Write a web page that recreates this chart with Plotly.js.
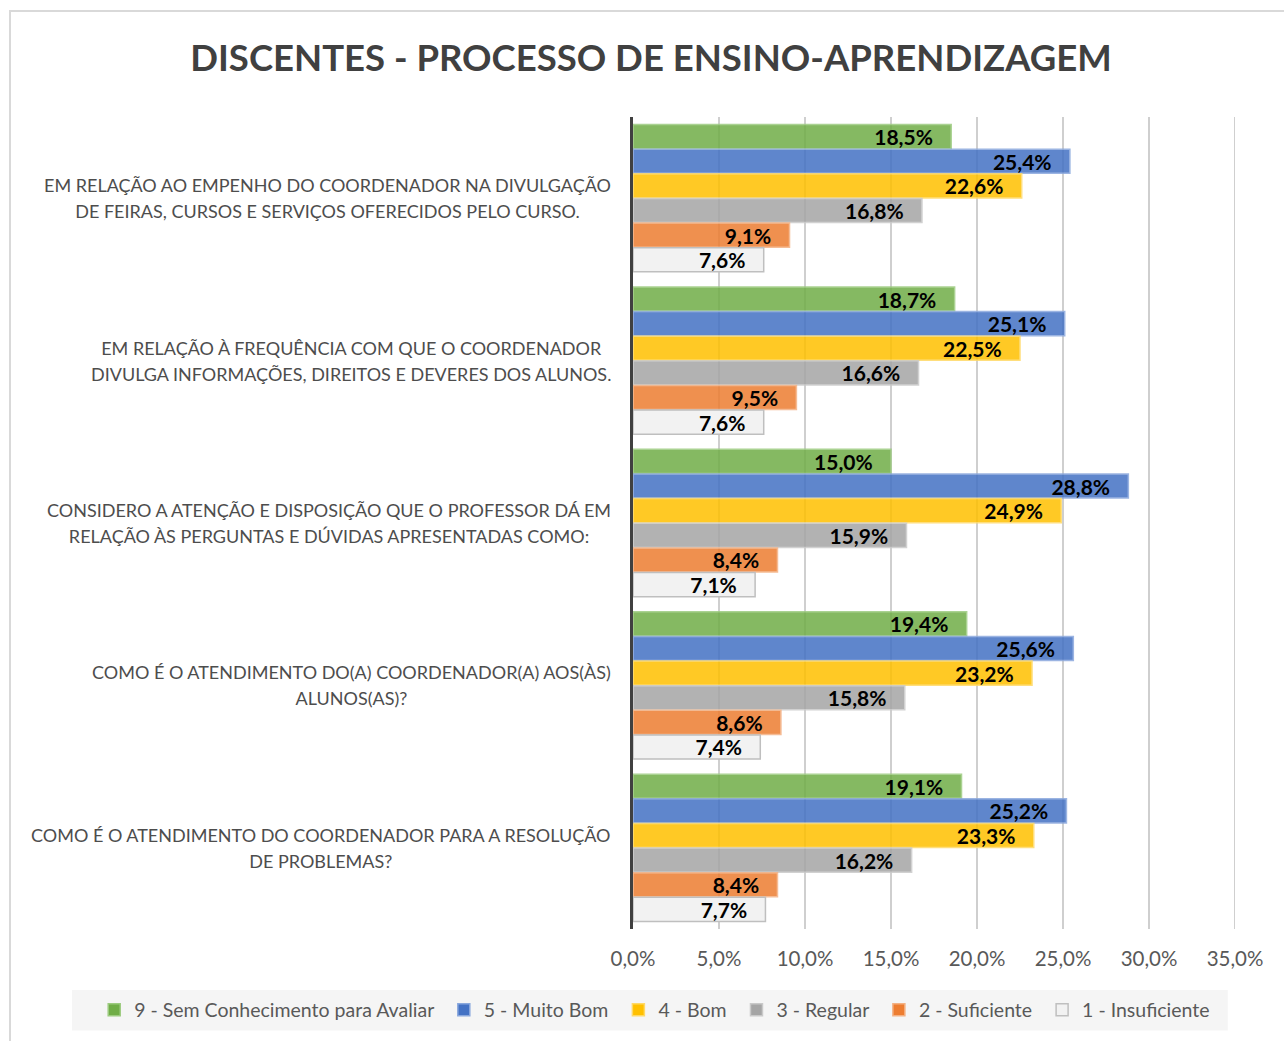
<!DOCTYPE html>
<html>
<head>
<meta charset="utf-8">
<script src="https://cdn.plot.ly/plotly-3.0.1.min.js"></script>
<style>
  body { margin: 0; background: #ffffff; overflow: hidden; }
  #frame { position: absolute; left: 9px; top: 10px; width: 1300px; height: 1040px; border: 2px solid #d9d9d9; box-sizing: border-box; }
  #chart { position: absolute; left: 0; top: 0; width: 1284px; height: 1041px; }
</style>
</head>
<body>
<div id="frame"></div>
<div id="chart"></div>
<script>
const categories = [
  "EM RELAÇÃO AO EMPENHO DO COORDENADOR NA DIVULGAÇÃO<br>DE FEIRAS, CURSOS E SERVIÇOS OFERECIDOS PELO CURSO.",
  "EM RELAÇÃO À FREQUÊNCIA COM QUE O COORDENADOR<br>DIVULGA INFORMAÇÕES, DIREITOS E DEVERES DOS ALUNOS.",
  "CONSIDERO A ATENÇÃO E DISPOSIÇÃO QUE O PROFESSOR DÁ EM<br>RELAÇÃO ÀS PERGUNTAS E DÚVIDAS APRESENTADAS COMO:",
  "COMO É O ATENDIMENTO DO(A) COORDENADOR(A) AOS(ÀS)<br>ALUNOS(AS)?",
  "COMO É O ATENDIMENTO DO COORDENADOR PARA A RESOLUÇÃO<br>DE PROBLEMAS?"
];
const seriesNames = ["9 - Sem Conhecimento para Avaliar", "5 - Muito Bom", "4 - Bom", "3 - Regular", "2 - Suficiente", "1 - Insuficiente"];
const semConhecimento = [18.5, 18.7, 15.0, 19.4, 19.1];
const muitoBom        = [25.4, 25.1, 28.8, 25.6, 25.2];
const bom             = [22.6, 22.5, 24.9, 23.2, 23.3];
const regular         = [16.8, 16.6, 15.9, 15.8, 16.2];
const suficiente      = [9.1, 9.5, 8.4, 8.6, 8.4];
const insuficiente    = [7.6, 7.6, 7.1, 7.4, 7.7];
const xTicks = [0, 5, 10, 15, 20, 25, 30, 35];

const seriesValues = [semConhecimento, muitoBom, bom, regular, suficiente, insuficiente];
const fills  = ["#70AD47", "#4472C4", "#FFC000", "#A5A5A5", "#ED7D31", "#F2F2F2"];
const lines  = ["#9ccb7f", "#8aa8dd", "#ffd966", "#c9c9c9", "#f4b183", "#bfbfbf"];
const opac   = [0.85, 0.85, 0.85, 0.85, 0.85, 1];
const FONT = "Lato, 'Open Sans', sans-serif";

const catIds = categories.map((c, i) => "c" + i);
const xMax = xTicks[xTicks.length - 1];

const traces = seriesValues.map((vals, i) => ({
  type: "bar",
  orientation: "h",
  name: seriesNames[i] + "\u00a0",
  x: vals,
  y: catIds,
  marker: { color: fills[i], opacity: opac[i], line: { color: lines[i], width: 1.5 } },
  texttemplate: "%{x:.1f}%\u00a0\u00a0\u00a0",
  textposition: "inside",
  insidetextanchor: "end",
  constraintext: "none",
  textfont: { family: FONT, size: 21, color: "#000000", weight: "bold" },
  cliponaxis: false,
  hoverinfo: "skip"
}));

const annotations = categories.map((c, i) => ({
  xref: "paper", yref: "y",
  x: -0.0332, y: catIds[i],
  xanchor: "right", yanchor: "middle",
  align: "center",
  text: c.split("<br>").map(p => '<span style="font-size:18px">' + p + '</span>').join("<br>"),
  showarrow: false,
  font: { family: FONT, size: 20, color: "#4d4d4d" }
}));

const layout = {
  width: 1284, height: 1041,
  paper_bgcolor: "rgba(0,0,0,0)",
  plot_bgcolor: "rgba(0,0,0,0)",
  separators: ",.",
  margin: { l: 633, r: 49, t: 117, b: 112, autoexpand: false },
  title: {
    text: "<b>DISCENTES - PROCESSO DE ENSINO-APRENDIZAGEM</b>",
    x: 0.507, xanchor: "center", y: 0.944, yanchor: "middle",
    font: { family: FONT, size: 36.5, color: "#404040" }
  },
  barmode: "group",
  bargap: 0.09,
  bargroupgap: 0.02,
  xaxis: {
    range: [0, xMax],
    tickvals: xTicks,
    ticktext: xTicks.map(v => v.toFixed(1).replace(".", ",") + "%"),
    showgrid: true, gridcolor: "#cfcfcf", gridwidth: 2,
    zeroline: false, showline: false, ticks: "",
    tickfont: { family: FONT, size: 20.5, color: "#595959" },
    ticklabelstandoff: 15,
    fixedrange: true
  },
  yaxis: {
    type: "category",
    categoryorder: "array", categoryarray: catIds,
    autorange: "reversed",
    showticklabels: false, ticks: "",
    showline: true, linecolor: "#404040", linewidth: 3,
    showgrid: false, zeroline: false,
    fixedrange: true
  },
  showlegend: true,
  legend: {
    orientation: "h",
    x: -0.895, xanchor: "left",
    y: -0.0998, yanchor: "middle",
    bgcolor: "rgba(0,0,0,0)",
    font: { family: FONT, size: 19.5, color: "#595959" },
    itemwidth: 30,
    traceorder: "normal"
  },
  shapes: [
    {
      type: "rect", xref: "paper", yref: "paper", layer: "below",
      x0: -0.932, x1: 0.988, y0: -0.075, y1: -0.125,
      fillcolor: "#f5f5f5", line: { width: 0 }
    },
    {
      type: "line", xref: "x", yref: "paper", layer: "below",
      x0: xMax, x1: xMax, y0: 0, y1: 1,
      line: { color: "#cfcfcf", width: 2 }
    }
  ],
  annotations: annotations
};

Plotly.newPlot("chart", traces, layout, { displayModeBar: false, staticPlot: true });
</script>
</body>
</html>
